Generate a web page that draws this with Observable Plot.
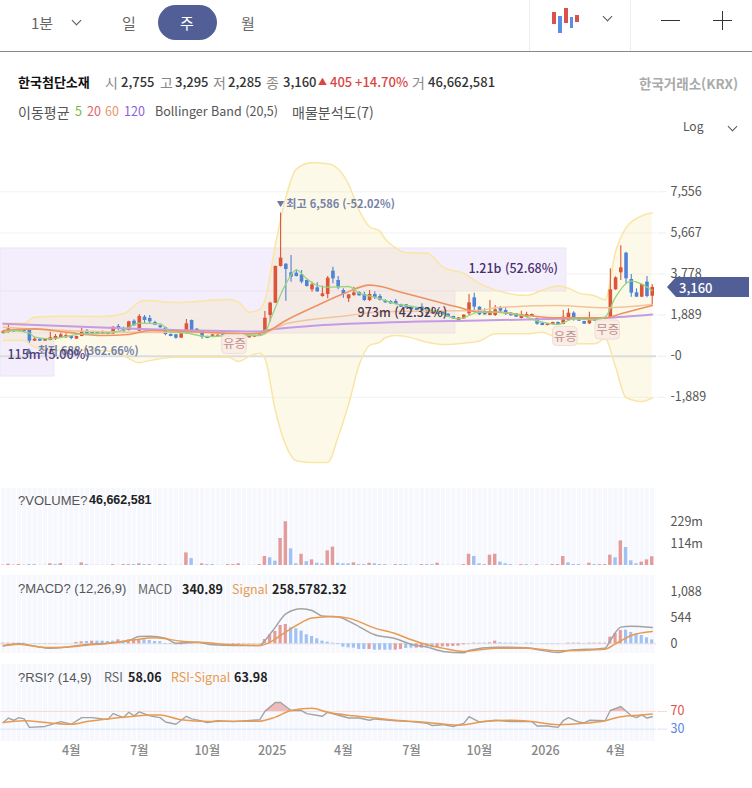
<!DOCTYPE html>
<html lang="ko">
<head>
<meta charset="utf-8">
<script src="https://cdn.jsdelivr.net/npm/d3@7"></script>
<script src="https://cdn.jsdelivr.net/npm/@observablehq/plot@0.6"></script>
<style>
html,body{margin:0;padding:0;background:#fff;overflow:hidden}
#page{position:relative;width:752px;height:788px;overflow:hidden;font-family:"Noto Sans CJK KR","Noto Sans",sans-serif;color:#333}
#page>span,#page>div{position:absolute;white-space:nowrap;line-height:1}
.panel svg{display:block;background:transparent}
.g{color:#888;font-size:14px}.n{color:#333;font-size:13px;font-weight:500}.r{color:#d8473f;font-size:13px;font-weight:500}
.t{color:#666;font-size:15px}.l{color:#555;font-size:12.5px}.k{color:#555;font-size:14px}
.a{font-family:"Liberation Sans",Arial,sans-serif;font-size:13px;color:#555}
.v{font-size:12.5px;font-weight:700;color:#222}
.chev{width:6px;height:6px;border-right:1.3px solid #555;border-bottom:1.3px solid #555;transform:rotate(45deg)}
</style>
</head>
<body>
<div id="page"></div>
<script>
const open=[1050,1105,1212,1150,1212,1181,691,783,691,722,
783,844,844,936,783,905,1150,1105,1090,997,
1090,1028,1365,1243,1181,1610,1150,1794,1733,1549,
1396,1304,997,982,829,1059,1641,1243,1150,905,
875,890,985,960,980,1000,880,845,875,936,
1028,1870,2438,4123,4230,3832,3816,3740,3479,3050,
3142,2744,2836,3908,3479,3020,2637,2790,2928,2836,
2560,2836,2744,2560,2514,2514,2361,2361,2254,2208,
2254,2177,1947,2100,2039,1932,1825,1641,1717,1947,
2683,2254,2054,1871,1871,2223,2100,1978,1947,1733,
1794,1825,1733,1518,1411,1457,1549,1457,1641,1978,
1763,1595,1487,1672,1750,1700,1763,3050,3832,4735,
3525,2912,2713,3403,2755];
const close=[1120,1258,1120,1258,1135,691,783,691,768,844,
905,982,951,813,905,1135,1028,997,997,1120,
997,1334,1243,1150,1580,1396,1825,1641,1580,1427,
1304,997,905,829,1028,1488,1181,1181,875,814,
982,967,890,880,890,900,950,920,950,1028,
1748,2438,4123,4506,3985,3632,3663,3403,3203,3280,
2958,2866,3586,3556,3142,2836,2820,2912,2775,2560,
2836,2683,2560,2453,2407,2376,2254,2223,2131,2100,
2070,1947,2100,1916,1886,1794,1717,1763,1886,2453,
2254,1901,1901,2054,2131,2070,1947,1855,1794,1901,
1917,1917,1472,1411,1488,1549,1441,1794,1978,1671,
1610,1472,1718,1610,1690,1750,3050,3602,4061,3556,
2897,2713,3295,2744,3160];
const high=[1150,1411,1240,1270,1230,1190,875,800,780,1105,
997,1059,1028,950,920,1288,1227,1130,1120,1160,
1110,1350,1457,1334,1610,1672,1917,1870,1870,1610,
1420,1330,1020,1000,1050,1687,1660,1260,1170,920,
1000,985,1000,975,995,1015,965,935,980,1060,
2055,2483,4140,6586,4245,4628,3970,3939,3500,3403,
3372,3219,3663,4092,3663,3096,2836,3173,2960,2943,
3020,2958,2836,2590,2550,2606,2390,2380,2280,2230,
2407,2200,2254,2130,2060,1950,1840,1780,1900,2836,
2897,2270,2177,2560,2330,2284,2223,2000,1960,2070,
2024,1935,1750,1530,1500,1565,1570,2100,2177,2039,
1780,1610,2024,1690,1765,1765,4015,3650,5072,4781,
3755,3096,3310,3663,3295];
const low=[1020,1059,1100,1140,1120,599,680,680,680,710,
722,830,830,752,770,890,1010,985,985,985,
985,1000,1181,1090,1160,1380,1130,1488,1457,1410,
1290,936,890,783,815,997,1160,1165,783,800,
860,875,875,865,875,885,865,830,860,920,
982,1564,2420,4100,2529,3403,3640,3326,3180,2943,
2940,2713,2637,3326,3050,2667,2468,2744,2750,2514,
2514,2606,2540,2430,2390,2360,2240,2200,2110,2080,
2050,1930,1930,1900,1870,1780,1700,1620,1700,1870,
2100,1870,1880,1855,1825,2009,1871,1835,1780,1715,
1780,1810,1426,1395,1395,1440,1425,1440,1625,1610,
1595,1455,1457,1590,1675,1685,1718,3030,3479,3326,
2713,2700,2695,2683,2285];
const volume=[2,7,2,5,2,5,5,1,1,9,
5,10,1,1,1,14,5,1,1,1,
1,5,1,5,5,5,9,5,5,1,
5,5,1,1,1,67,37,1,9,5,
5,1,1,5,5,9,1,1,1,5,
48,41,23,144,233,89,9,60,20,30,
12,9,78,98,12,9,9,14,5,5,
12,9,5,5,1,5,5,5,1,1,
5,5,5,12,1,1,1,1,5,60,
48,9,5,55,60,18,9,5,1,5,
5,1,5,1,1,5,5,48,14,5,
5,1,12,5,5,5,55,41,131,96,
25,9,18,30,46.66];
const volumeDir="rrrrbbbbrr"+"brrbrrbbbr"+"brbrrbrbrb"+"rbbbrrbbrb"+"bbbrrrbbbr"+"rbbrrbbrbr"+"bbrrbbbrbb"+"rbbbbrbbbb"+"rbbrbbbbrr"+"bbbrrbbbbr"+"bbrbbrrrbb"+"bbrbrrrbrb"+"bbrrr";
const macdHist=[14,14,14,14,14,0,-7,-7,-7,-7,
-7,0,0,0,28,42,49,56,56,56,
49,56,84,56,84,84,84,84,70,49,
42,-14,-14,-21,-21,-7,14,7,7,7,
-7,-7,-7,-7,-14,-14,-7,-7,7,7,
91,190,260,386,407,337,316,267,190,154,
105,56,35,14,-14,-70,-84,-91,-119,-119,
-119,-133,-133,-133,-133,-133,-119,-98,-91,-91,
-91,-84,-84,-77,-63,-63,-56,-49,-21,7,
14,14,14,21,56,21,14,14,14,0,
14,14,0,-7,-7,-7,-7,0,14,14,
14,7,14,14,14,14,140,218,281,288,
239,211,175,126,82];
const histDir="rrrbbbbbrr"+"rbbbrrbrbb"+"bbrbrrrbbb"+"bbbbrbrbbb"+"bbbbrrrrrr"+"rrrrrbbbbb"+"bbbbbbbbbb"+"rbbbbrrbbr"+"rbbrrrrrrr"+"rbbrrbbbbb"+"bbbbbbbbrr"+"rbrrrrrrrb"+"bbbbb";

const bandIdx=[0,4,6,11,19,23,26,27,33,43,45,47,49,50,52,54,56,59,62,64,66,68,70,72,73,75,77,81,84,88,91,94,100,103,106,108,110,113,115,117,119,122,124];
const bandUpper=[1518,1518,1794,1840,1825,1947,2483,2560,2468,2606,2483,2024,2150,2560,5100,7300,8600,8887,8850,8600,7900,6700,5950,5750,5380,4980,4750,4736,4092,3800,3350,3050,2790,3030,3230,3120,2900,2780,2591,4800,5900,6450,6589];
const bandLower=[722,722,415,262,262,32,-305,-250,-44,-44,-244,0,140,-100,-2496,-4100,-4800,-4880,-4885,-3700,-2200,-400,500,645,850,952,900,645,538,600,700,1028,1028,1105,800,650,568,568,798,-500,-1900,-2082,-1913];

const ma5Idx=[0,2,5,6,9,12,15,20,23,26,30,32,35,39,44,49,50,51,54,56,58,60,62,66,68,71,75,79,83,87,91,94,99,103,106,109,113,115,117,120,124];
const ma5Val=[1059,1181,1059,875,798,905,1028,1059,1212,1518,1488,1105,1059,905,951,951,1059,1641,3326,3970,3556,3250,3173,3203,2897,2713,2407,2254,2024,1718,2024,2024,1871,1564,1457,1718,1672,1794,2713,3449,3020];
const ma20Idx=[0,6,12,19,24,28,38,47,50,54,60,65,70,71,76,82,87,91,94,100,106,115,118,124];
const ma20Val=[1181,1258,1105,951,997,1181,1105,1028,1105,1641,2330,2866,3265,3250,2943,2560,2250,2024,2024,1871,1763,1763,1947,2330];
const ma60Idx=[0,12,25,38,49,54,60,66,71,79,91,94,106,115,124];
const ma60Val=[1334,1181,1105,1105,1028,1488,1717,1870,2024,2070,2100,2223,2330,2223,2376];
const ma120Idx=[0,25,49,50,60,66,73,91,106,115,124];
const ma120Val=[1488,1258,1135,1181,1411,1488,1549,1641,1717,1763,1917];

const macdIdx=[0,3,6,9,12,16,20,24,26,28,31,33,37,40,44,49,50,52,54,57,59,61,64,67,71,75,78,81,84,88,89,94,100,102,106,108,115,116,118,120,124];
const macdVal=[-35,0,-49,-91,-70,-14,14,70,154,161,119,14,35,-21,-35,-35,70,351,632,737,702,583,562,421,190,105,-14,-70,-161,-190,-140,-70,-84,-119,-183,-140,-91,70,351,372,341];
const signalIdx=[0,3,8,12,16,20,25,29,34,39,44,49,51,53,56,59,63,66,71,75,78,81,84,88,94,100,106,115,117,120,124];
const signalVal=[-49,-7,-77,-70,-28,7,84,126,56,21,-21,-35,35,175,386,541,576,541,330,211,84,-21,-91,-161,-91,-91,-147,-112,0,175,258];

const rsiIdx=[0,1,2,3,4,5,8,11,13,15,17,19,20,21,23,24,25,26,28,30,31,33,35,36,37,39,41,44,49,50,52,53,55,57,58,61,62,66,68,70,71,75,78,81,82,84,86,88,89,91,94,97,101,102,104,106,107,108,110,111,112,115,116,118,120,121,122,123,124];
const rsiVal=[45,55,50,56,53,34,36,47,41,56,56,53,52,65,56,68,60,69,60,56,46,41,59,53,51,45,49,47,51,70,90,90,72,72,65,59,68,55,55,50,53,49,47,43,38,40,36,43,58,46,50,47,47,37,37,34,49,56,46,44,50,49,72,81,60,56,62,55,58];
const rsiSigIdx=[0,4,9,13,16,20,25,28,30,34,39,44,49,52,55,59,62,67,71,75,81,87,92,97,101,106,111,115,118,122,124];
const rsiSigVal=[45,49,44,41,47,53,59,62,62,51,47,48,48,57,72,77,68,60,55,50,45,39,47,50,47,40,43,49,58,62,64];
const rsiOverAIdx=[50,52,53,55], rsiOverAVal=[70,90,90,72];
const rsiOverBIdx=[116,118,119], rsiOverBVal=[72,81,70];

const boxEnd=[107.6,86.4,9.8], boxTop=[4950,2974,1043], boxBottom=[2974,1043,-933];
const noteText=["최고 6,586 (-52.02%)","최저 688 (362.66%)"], noteIdx=[54.1,6.6], noteVal=[6972,216];
const markText=["▼","▲"], markIdx=[53,4.9], markVal=[6972,216];
const boxText=["115m (5.00%)","973m (42.32%)","1.21b (52.68%)"], boxTextIdx=[0.8,67.7,88.9], boxTextVal=[78,2008,3985], boxTextColor=["#4d3d78","#4d3550","#4a2f70"];
const badgeText=["유증","유증","무증"], badgeIdx=[44.2,107.4,115.5], badgeVal=[538,905,1204];

const priceTicks=[7556,5667,3778,1889,0,-1889];
const priceTickLabels=["7,556","5,667","3,778","1,889","-0","-1,889"];
const volTicks=[229,114.5], volTickLabels=["229m","114m"];
const macdTicks=[1088,544,0], macdTickLabels=["1,088","544","0"];
const monthTicks=[13,26,39,51.4,65,78,91,103.6,117];
const monthLabels=["4월","7월","10월","2025","4월","7월","10월","2026","4월"];

const UP="#dd5438", DOWN="#4f83d6", PALEUP="#e39c9b", PALEDOWN="#a0c1f5", GOLD="#f9e5a6", ORANGE="#e99a4f", GRAY="#a3a3a3";
const FONT='"Noto Sans CJK KR","Noto Sans",sans-serif';
const xDomain=[-0.516,124.82];
const idx=d3.range(125);
const rows=idx.map(i=>({i,open:open[i],close:close[i],high:high[i],low:low[i],volume:volume[i],vd:volumeDir[i],hist:macdHist[i],hd:histDir[i]}));
const zip=(xs,ys)=>xs.map((x,k)=>({x,y:ys[k]}));
const page=document.getElementById("page");

function lbl(p,labels){return v=>labels[p.indexOf(v)];}
function panel(top,height,yDomain,marks,marginBottom=0){
  const plotH=height-marginBottom;
  const chart=Plot.plot({width:752,height,marginLeft:0,marginRight:96,marginTop:0,marginBottom,
    x:{domain:xDomain,axis:null},y:{domain:yDomain,range:[plotH,0],axis:null},
    style:{fontFamily:FONT,fontSize:"12.5px",background:"transparent",overflow:"visible"},
    marks});
  const d=document.createElement("div");d.className="panel";d.style.left="0";d.style.top=top+"px";
  d.appendChild(chart);page.appendChild(d);
}
const stripes=()=>Plot.ruleX(idx,{x:d=>d,stroke:"#f6f8fd",strokeWidth:4.3});
const line=(xs,ys,stroke,w=1.5,curve="monotone-x")=>Plot.line(zip(xs,ys),{x:"x",y:"y",stroke,strokeWidth:w,curve});

/* price panel */
const band=bandIdx.map((x,k)=>({x,upper:bandUpper[k],lower:bandLower[k]}));
const boxes=boxEnd.map((e,k)=>({e,t:boxTop[k],b:boxBottom[k]}));
const badges=badgeIdx.map((x,k)=>({x,y:badgeVal[k],t:badgeText[k]}));
panel(155,315,[-5253,9224],[
  Plot.rect(boxes,{x1:()=>xDomain[0],x2:"e",y1:"b",y2:"t",fill:"#f4eefc",stroke:"#ebe4f4",strokeWidth:1}),
  Plot.ruleY(priceTicks.filter(v=>v!==0),{stroke:"#f2f2f6",strokeWidth:1}),
  Plot.axisY({anchor:"right",ticks:priceTicks,tickFormat:lbl(priceTicks,priceTickLabels),tickSize:9,tickPadding:5,stroke:"#eeeeee",fill:"#555",label:null,fontSize:12.5}),
  Plot.areaY(band,{x:"x",y1:"lower",y2:"upper",fill:"rgb(245,222,140)",fillOpacity:0.19,curve:"monotone-x"}),
  Plot.ruleY([0],{stroke:"#dcdcdc",strokeWidth:2}),
  line(bandIdx,bandUpper,GOLD),
  line(bandIdx,bandLower,GOLD),
  Plot.ruleX(rows,{x:"i",y1:"low",y2:"high",stroke:d=>d.close>=d.open?UP:DOWN,strokeWidth:1.1}),
  Plot.ruleX(rows,{x:"i",y1:"open",y2:"close",stroke:d=>d.close>=d.open?UP:DOWN,strokeWidth:3.6}),
  line(ma120Idx,ma120Val,"#c59be6",2),
  line(ma60Idx,ma60Val,"#f3c39b",1.5),
  line(ma20Idx,ma20Val,"#ee9262",1.6),
  line(ma5Idx,ma5Val,"#94d57f",1.3),
  Plot.rect(badges,{x1:d=>d.x-2.35,x2:d=>d.x+2.35,y1:d=>d.y-440,y2:d=>d.y+440,fill:"#f8ebe5",fillOpacity:0.92,stroke:"#f0ddd5",rx:4}),
  Plot.text(badges,{x:"x",y:"y",text:"t",fill:"#c0908a",fontSize:12.5}),
  Plot.text(zip(markIdx,markVal),{x:"x",y:"y",text:(d,k)=>markText[k],fill:"#6b78a3",fontSize:7.5}),
  Plot.text(zip(noteIdx,noteVal),{x:"x",y:"y",text:(d,k)=>noteText[k],fill:"#7682a8",fontSize:11,fontWeight:700,textAnchor:"start"}),
  Plot.text(zip(boxTextIdx,boxTextVal),{x:"x",y:"y",text:(d,k)=>boxText[k],fill:(d,k)=>boxTextColor[k],fontSize:12.5,fontWeight:500,textAnchor:"start"})
]);

/* volume panel */
panel(488,77,[0,410],[
  stripes(),
  Plot.rect(rows,{x1:d=>d.i-.33,x2:d=>d.i+.33,y1:()=>0,y2:"volume",fill:d=>d.vd==="r"?PALEUP:PALEDOWN}),
  Plot.axisY({anchor:"right",ticks:volTicks,tickFormat:lbl(volTicks,volTickLabels),tickSize:0,tickPadding:14,fill:"#555",label:null,fontSize:12.5})
]);

/* MACD panel */
panel(575,78,[-204,1438],[
  stripes(),
  Plot.ruleY([0],{stroke:"#e2e2e2",strokeWidth:1}),
  Plot.rect(rows,{x1:d=>d.i-.3,x2:d=>d.i+.3,y1:()=>0,y2:"hist",fill:d=>d.hd==="r"?PALEUP:PALEDOWN}),
  Plot.axisY({anchor:"right",ticks:macdTicks,tickFormat:lbl(macdTicks,macdTickLabels),tickSize:0,tickPadding:14,fill:"#555",label:null,fontSize:12.5}),
  line(macdIdx,macdVal,GRAY),
  line(signalIdx,signalVal,ORANGE)
]);

/* RSI panel */
panel(664,101,[2,176],[
  stripes(),
  Plot.areaY(zip(rsiOverAIdx,rsiOverAVal),{x:"x",y1:()=>70,y2:"y",fill:"#eebcbc"}),
  Plot.areaY(zip(rsiOverBIdx,rsiOverBVal),{x:"x",y1:()=>70,y2:"y",fill:"#eebcbc"}),
  Plot.ruleY([70],{stroke:"#f7d8d6"}),
  Plot.ruleY([30],{stroke:"#d6e4fb"}),
  Plot.axisY({anchor:"right",ticks:[70],tickFormat:d3.format("d"),tickSize:10,tickPadding:4,stroke:"#f7d8d6",fill:"#e0504a",label:null,fontSize:12.5}),
  Plot.axisY({anchor:"right",ticks:[30],tickFormat:d3.format("d"),tickSize:10,tickPadding:4,stroke:"#d6e4fb",fill:"#5b86e0",label:null,fontSize:12.5}),
  line(rsiIdx,rsiVal,GRAY,1.4,"linear"),
  line(rsiSigIdx,rsiSigVal,ORANGE,1.5),
  Plot.axisX({anchor:"bottom",ticks:monthTicks,tickFormat:lbl(monthTicks,monthLabels),tickSize:0,tickPadding:5,fill:"#888",label:null,fontSize:12.5,fontWeight:500})
],24);

/* html chrome */
function put(html,left,top,cls,extra=""){
  const s=document.createElement("span");s.innerHTML=html;if(cls)s.className=cls;
  s.style.cssText=`left:${left}px;top:${top}px;`+extra;page.appendChild(s);return s;
}
function box(left,top,w,h,css){
  const d=document.createElement("div");d.style.cssText=`left:${left}px;top:${top}px;width:${w}px;height:${h}px;`+css;page.appendChild(d);return d;
}
function chev(left,top){const d=box(left,top,6,6,"");d.className="chev";}
put("1분",31,15,"t");chev(73,17);
put("일",122,15,"t");
box(158,5,59,35,"background:#525f96;border-radius:18px");
put("주",180,15,"t","color:#fff");
put("월",241,15,"t");
box(529,0,1,51,"background:#eee");box(630,0,1,51,"background:#eee");
box(0,51,752,1,"background:#888");
[[552,12,12,"#d9534a"],[558,16,17,"#5b8ee6"],[564,8,15,"#d9534a"],[569.5,17,11,"#5b8ee6"],[575,15,7,"#d9534a"]].forEach(([x,y,h,c])=>box(x,y,3.5,h,`background:${c}`));
chev(604,13);
box(661,20,19,1.4,"background:#333");
box(713,20,19,1.4,"background:#333");box(722,11,1.4,19,"background:#333");

put("한국첨단소재",18,75,"","font-size:13px;font-weight:700;color:#111");
[["시",105,"g"],["2,755",121,"n"],["고",160,"g"],["3,295",175,"n"],["저",213,"g"],["2,285",228,"n"],["종",266,"g"],["3,160",283,"n"],["405",330,"r"],["+14.70%",355,"r"],["거",412,"g"],["46,662,581",428,"n"]]
 .forEach(([t,x,c])=>put(t,x,75,c));
put("▲",318,77,"r","font-size:9px");
put("한국거래소(KRX)",639,77,"","font-size:13.5px;font-weight:700;color:#aaa");
put("이동평균",18,105,"k");put("5",75,105,"l","color:#78b63f");put("20",87,105,"l","color:#e4606a");put("60",105,105,"l","color:#e8976a");put("120",124,105,"l","color:#8a5fe0");
put("Bollinger Band (20,5)",155,105,"l");put("매물분석도(7)",292,105,"k");
put("Log",683,120,"","font-size:12px;color:#555");chev(729,123);

put("?VOLUME?",18,494,"a");put("46,662,581",89,494,"v","font-family:'Liberation Sans',Arial,sans-serif");
put("?MACD? (12,26,9)",18,582,"a");put("MACD",138,583,"l","color:#666");put("340.89",182,583,"v");put("Signal",232,583,"l","color:#e99a4f");put("258.5782.32",272,583,"v");
put("?RSI? (14,9)",18,671,"a");put("RSI",104,671,"l","color:#666");put("58.06",128,671,"v");put("RSI-Signal",171,671,"l","color:#e99a4f");put("63.98",234,671,"v");

box(667,277,82,20,"background:#525f96;clip-path:polygon(0 50%,9px 0,100% 0,100% 100%,9px 100%);z-index:5");
put("3,160",679,281,"","color:#fff;font-size:13px;font-weight:500;z-index:6");
</script>
</body>
</html>
